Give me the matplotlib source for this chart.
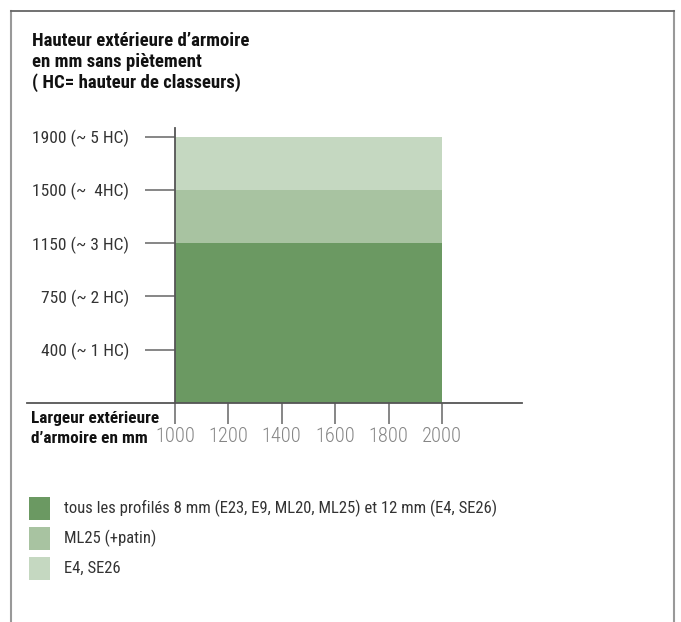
import matplotlib
matplotlib.use("Agg")
import matplotlib.pyplot as plt
from matplotlib.patches import Rectangle
from matplotlib.lines import Line2D

# ---- data ----
height_labels = ["400 (~ 1 HC)", "750 (~ 2 HC)", "1150 (~ 3 HC)", "1500 (~  4HC)", "1900 (~ 5 HC)"]
width_ticks = [1000, 1200, 1400, 1600, 1800, 2000]
series_names = ["tous les profilés 8 mm (E23, E9, ML20, ML25) et 12 mm (E4, SE26)",
                "ML25 (+patin)", "E4, SE26"]
series_bottom = [0, 3, 4]      # level index where each band starts
series_top = [3, 4, 5]         # level index where each band ends
width_min = [1000, 1000, 1000]
width_max = [2000, 2000, 2000]
colors = ["#6b9962", "#a8c3a1", "#c5d8c1"]

title_lines = ["Hauteur extérieure d\u2019armoire", "en mm sans piètement", "( HC= hauteur de classeurs)"]
xlabel_lines = ["Largeur extérieure", "d\u2019armoire en mm"]

W, H = 681, 622
FAM = ["Roboto Condensed", "DejaVu Sans"]
plt.rcParams["font.family"] = FAM

fig = plt.figure(figsize=(W / 100, H / 100), dpi=100)

def fx(px):
    return px / W

def fy(py):
    return 1 - py / H

ax = fig.add_axes([fx(27), fy(403), fx(522) - fx(27), fy(128) - fy(403)])
ax.set_xlim(446, 2300)
ax.set_ylim(0, 5.16)

for b, t, x0, x1, c in zip(series_bottom, series_top, width_min, width_max, colors):
    ax.bar(x0, t - b, width=x1 - x0, bottom=b, align="edge", color=c, edgecolor="none", zorder=1)

for s in ["top", "right"]:
    ax.spines[s].set_visible(False)
ax.spines["left"].set_position(("data", 1000))
ax.spines["bottom"].set_position(("data", 0))
for s in ["left", "bottom"]:
    ax.spines[s].set_color("#555555")
    ax.spines[s].set_linewidth(1.3)
    ax.spines[s].set_zorder(3)

ax.set_yticks(range(1, len(height_labels) + 1))
ax.set_yticklabels(height_labels)
ax.set_xticks(width_ticks)
ax.set_xticklabels([str(v) for v in width_ticks], fontweight=300)
ax.tick_params(axis="y", direction="out", length=21.6, width=1.1, color="#666666",
               pad=11.5, labelsize=12.5, labelcolor="#333333")
ax.tick_params(axis="x", direction="out", length=15, width=1.1, color="#666666",
               pad=2.5, labelsize=14.7, labelcolor="#858585")
ax.set_facecolor("none")

# title
for i, line in enumerate(title_lines):
    fig.text(fx(32), fy(45.7 + 21 * i), line, fontsize=13.5, fontweight="bold",
             color="#111111", ha="left", va="baseline")

# x axis label
for i, line in enumerate(xlabel_lines):
    fig.text(fx(31), fy(423.3 + 20 * i), line, fontsize=12.4, fontweight="bold",
             color="#111111", ha="left", va="baseline")

# legend
leg_y = [497, 527, 557]
for yy, name, c in zip(leg_y, series_names, colors):
    fig.patches.append(Rectangle((fx(29), fy(yy + 22.5)), fx(21), 22.5 / H,
                                 transform=fig.transFigure, color=c, linewidth=0))
    fig.text(fx(64), fy(yy + 11.5), name, fontsize=12, color="#333333",
             ha="left", va="center")

# frame
fig.add_artist(Line2D([fx(11), fx(11)], [fy(11), 0], transform=fig.transFigure,
                      color="#999999", linewidth=1.5))
fig.add_artist(Line2D([fx(674), fx(674)], [fy(11), 0], transform=fig.transFigure,
                      color="#999999", linewidth=1.5))
fig.add_artist(Line2D([fx(11), fx(674)], [fy(11), fy(11)], transform=fig.transFigure,
                      color="#666666", linewidth=1.3))

fig.savefig("out.png", dpi=100)
